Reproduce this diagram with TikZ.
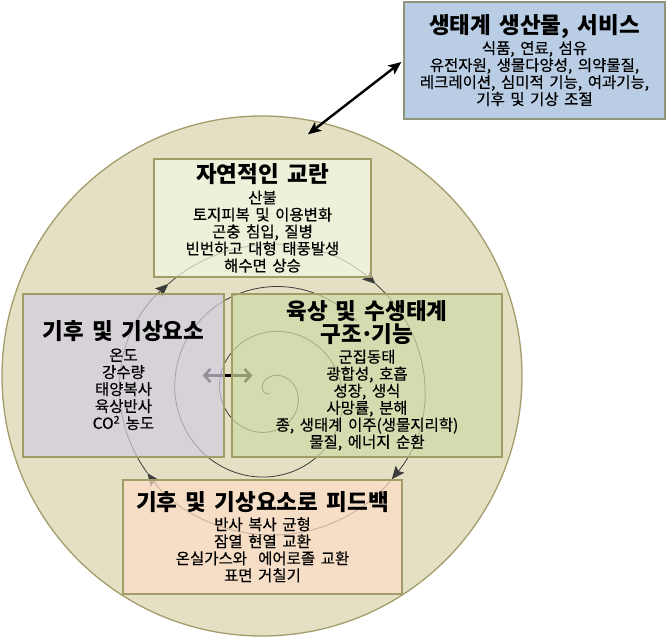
\documentclass[tikz,border=0pt]{standalone}
\usepackage{fontspec}
\setmainfont[WordSpace=1.6]{Noto Sans CJK KR}
\newfontfamily\bodyfam[FakeBold=0.4,WordSpace=1.6]{Noto Sans CJK KR}
\usetikzlibrary{arrows.meta,shapes.geometric}
\definecolor{worldfill}{HTML}{E3E0C3}
\definecolor{worldline}{HTML}{A39D6C}
\definecolor{boxline}{HTML}{A29D66}
\definecolor{bluefill}{HTML}{B9CDE5}
\definecolor{blueline}{HTML}{8F957A}
\definecolor{natfill}{RGB}{243,247,227}
\definecolor{climfill}{RGB}{211,204,225}
\definecolor{ecofill}{RGB}{207,218,166}
\definecolor{fbfill}{RGB}{255,221,200}
\definecolor{spiralline}{HTML}{3C3C3C}
\newcommand\ttlfont{\fontsize{22.5}{25}\selectfont\normalfont\bfseries}
\newcommand\bdyfont{\bodyfam\fontsize{15.5}{17}\selectfont}
\pgfdeclarelayer{base}
\pgfdeclarelayer{lines}
\pgfsetlayers{base,lines,main}
\begin{document}
\begin{tikzpicture}[x=1pt,y=1pt,
  pane/.style={rectangle, draw=boxline, line width=1.3pt, fill opacity=0.7, text opacity=1,
    align=center, inner sep=0pt, font=\bdyfont, text=black},
  guide/.style={draw=spiralline, line width=0.8pt},
  cyc/.style={guide, -{Stealth[length=13pt,width=11pt,inset=2.5pt]}},
  bigarrow/.style={line width=2.4pt, black, {Stealth[length=13pt,width=11pt,inset=3pt]}-{Stealth[length=13pt,width=11pt,inset=3pt]}},
  swap/.style={line width=2.6pt, black, {Straight Barb[length=6pt,width=13pt]}-{Straight Barb[length=6pt,width=13pt]}}
]
\useasboundingbox (0,0) rectangle (667,638);

\begin{pgfonlayer}{base}
\node[ellipse, draw=worldline, line width=1.3pt, fill=worldfill, minimum width=520pt,
  minimum height=520pt, inner sep=0pt] (world) at (262,262) {};
\end{pgfonlayer}

\node[rectangle, draw=blueline, line width=1.3pt, fill=bluefill, minimum width=261pt,
  minimum height=117pt, align=center, inner sep=0pt, font=\bdyfont] (services) at (534.5,577.5)
  {{\ttlfont 생태계 생산물, 서비스}\\[1pt]
   식품, 연료, 섬유\\
   유전자원, 생물다양성, 의약물질,\\
   레크레이션, 심미적 기능, 여과기능,\\
   기후 및 기상 조절};

\node[pane, fill=natfill, minimum width=217pt, minimum height=118pt] (disturb) at (262.5,420)
  {{\ttlfont 자연적인 교란}\\[4pt]
   산불\\
   토지피복 및 이용변화\\
   곤충 침입, 질병\\
   빈번하고 대형 태풍발생\\
   해수면 상승};

\node[pane, fill=climfill, minimum width=201pt, minimum height=163pt] (clim) at (123.5,262.5)
  {{\ttlfont 기후 및 기상요소}\\[4pt]
   온도\\
   강수량\\
   태양복사\\
   육상반사\\
   CO\textsuperscript{2} 농도};

\node[pane, fill=ecofill, minimum width=270pt, minimum height=163pt] (eco) at (367,262.5)
  {{\ttlfont 육상 및 수생태계}\\[1pt]
   {\ttlfont 구조\kern-2pt·\kern-2pt기능}\\[3pt]
   군집동태\\
   광합성, 호흡\\
   성장, 생식\\
   사망률, 분해\\
   종, 생태계 이주(생물지리학)\\
   물질, 에너지 순환};

\node[pane, fill=fbfill, minimum width=279pt, minimum height=114pt] (feedback) at (262.5,101)
  {{\ttlfont 기후 및 기상요소로 피드백}\\[2.5pt]
   반사 복사 균형\\
   잠열 현열 교환\\
   온실가스와\ \ 에어로졸 교환\\
   표면 거칠기};

\begin{pgfonlayer}{lines}
\coordinate (hub) at (272,248);
% spiral
\draw[guide] plot[domain=0:900, samples=451, variable=\u]
  ({270+0.125*\u*cos(220-\u)},{245+0.125*\u*sin(220-\u)});
% cycle
\draw[cyc] ([shift={(215:152pt and 145pt)}]hub) arc[start angle=215,end angle=133,x radius=152pt,y radius=145pt];
\draw[cyc] ([shift={(133:152pt and 145pt)}]hub) arc[start angle=133,end angle=47,x radius=152pt,y radius=145pt];
\draw[cyc] ([shift={(47:152pt and 145pt)}]hub) arc[start angle=47,end angle=-38,x radius=152pt,y radius=145pt];
\draw[cyc] ([shift={(-38:152pt and 145pt)}]hub) arc[start angle=-38,end angle=-145,x radius=152pt,y radius=145pt];
% exchange arrow between climate and ecosystem
\draw[swap] ([xshift=-22pt]clim.east) -- ([xshift=21pt]eco.west);
\end{pgfonlayer}

\draw[bigarrow] ([shift={(46pt,-19pt)}]world.north) -- ([shift={(-2pt,-1.5pt)}]services.west);
\end{tikzpicture}
\end{document}
